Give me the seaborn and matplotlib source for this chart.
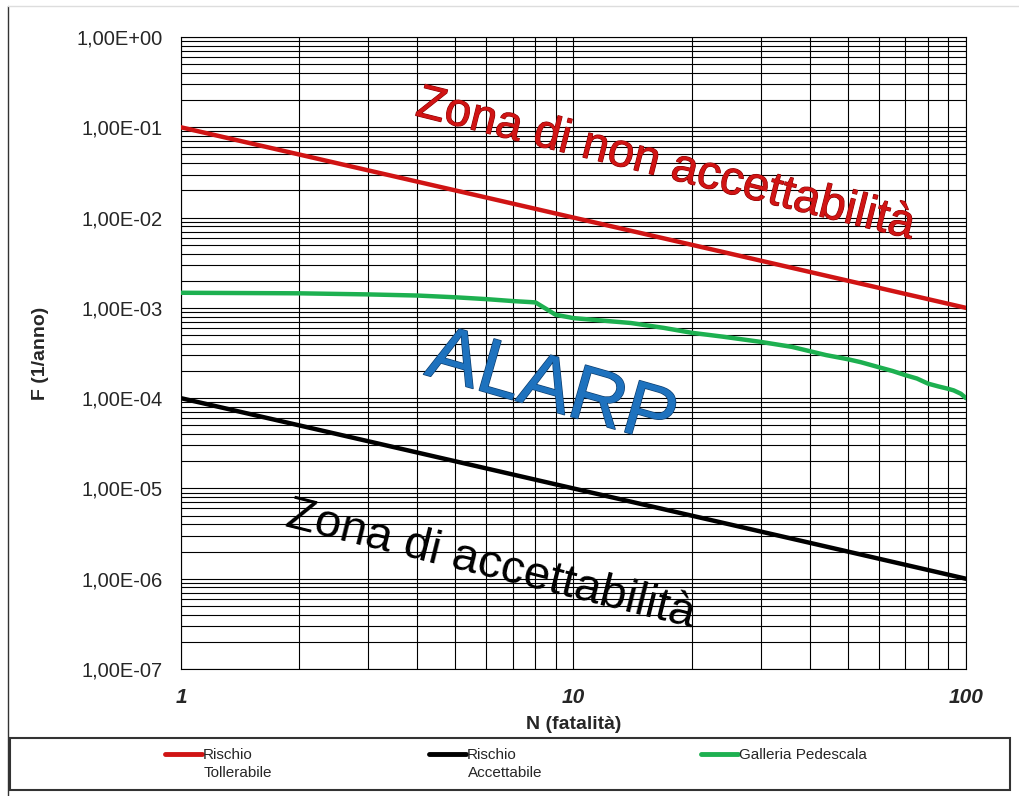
import numpy as np
import pandas as pd
import matplotlib
matplotlib.use('Agg')
import matplotlib.pyplot as plt
import matplotlib.ticker as ticker
import matplotlib.patheffects as pe
from matplotlib.patches import Rectangle
from matplotlib.lines import Line2D
import seaborn as sns

# colours as in the original F-N chart
COLOUR_RED   = '#D01414'
COLOUR_BLACK = '#000000'
COLOUR_GREEN = '#1DB050'
COLOUR_BLUE  = '#1E72BE'

# data
n_limits        = [1, 100]
rischio_toll    = [1e-1, 1e-3]
rischio_acc     = [1e-4, 1e-6]

n_galleria = [1, 2, 3, 4, 5, 6, 7, 8, 8.5, 9, 10, 12, 14, 17, 20, 24, 30, 36,
              44, 50, 54, 60, 65, 70, 75, 80, 85, 90, 93, 97, 100]
f_galleria = [1.47e-3, 1.45e-3, 1.41e-3, 1.37e-3, 1.31e-3, 1.25e-3, 1.19e-3,
              1.15e-3, 0.98e-3, 8.4e-4, 7.7e-4, 7.2e-4, 6.8e-4, 6.0e-4, 5.3e-4,
              4.8e-4, 4.2e-4, 3.7e-4, 3.0e-4, 2.7e-4, 2.5e-4, 2.2e-4, 2.0e-4,
              1.8e-4, 1.65e-4, 1.45e-4, 1.35e-4, 1.27e-4, 1.22e-4, 1.12e-4, 1.0e-4]

serie = ['Rischio Tollerabile', 'Rischio Accettabile', 'Galleria Pedescala']
legend_first = ['Rischio', 'Rischio', 'Galleria Pedescala']
legend_second = ['Tollerabile', 'Accettabile', '']

df = pd.concat([
    pd.DataFrame({'N': n_limits, 'F': rischio_toll, 'serie': serie[0]}),
    pd.DataFrame({'N': n_limits, 'F': rischio_acc, 'serie': serie[1]}),
    pd.DataFrame({'N': n_galleria, 'F': f_galleria, 'serie': serie[2]}),
])

sns.set_style('white')
plt.rcParams['font.family'] = ['Liberation Sans', 'DejaVu Sans']

fig = plt.figure(figsize=(10.19, 7.96), dpi=100)
ax = fig.add_axes([0.1776, 0.1595, 0.7704, 0.794])

sns.lineplot(
    data=df, x='N', y='F', hue='serie',
    palette=[COLOUR_RED, COLOUR_BLACK, COLOUR_GREEN],
    linewidth=3.2, legend=False, ax=ax, zorder=3
)

ax.set_xscale('log')
ax.set_yscale('log')
ax.set_xlim(1, 100)
ax.set_ylim(1e-7, 1)

ax.xaxis.set_major_locator(ticker.LogLocator(base=10))
ax.xaxis.set_minor_locator(ticker.LogLocator(base=10, subs=np.arange(2, 10)))
ax.yaxis.set_major_locator(ticker.LogLocator(base=10, numticks=10))
ax.yaxis.set_minor_locator(ticker.LogLocator(base=10, subs=np.arange(2, 10), numticks=10))
ax.xaxis.set_major_formatter(ticker.FuncFormatter(lambda v, p: f'{v:g}'))
ax.xaxis.set_minor_formatter(ticker.NullFormatter())
ax.yaxis.set_major_formatter(ticker.FuncFormatter(lambda v, p: f'{v:.2E}'.replace('.', ',')))
ax.yaxis.set_minor_formatter(ticker.NullFormatter())

ax.grid(which='both', color='black', linewidth=0.8)
ax.tick_params(which='both', direction='out', color='black', width=0.8)
ax.tick_params(which='major', length=6)
ax.tick_params(which='minor', length=5)
ax.tick_params(axis='y', labelsize=14.5, pad=7)
ax.tick_params(axis='x', labelsize=15, pad=8)
for lbl in ax.get_xticklabels():
    lbl.set_fontweight('bold')
    lbl.set_fontstyle('italic')
for s in ax.spines.values():
    s.set_color('black')
    s.set_linewidth(0.8)

ax.set_xlabel('N (fatalità)', fontsize=14, fontweight='bold', labelpad=6)
ax.set_ylabel('F (1/anno)', fontsize=14, fontweight='bold', labelpad=20)

# zone labels (WordArt style, thin dark outline)
ax.text(0.617, 0.797, 'Zona di non accettabilità', transform=ax.transAxes,
        fontsize=34, color=COLOUR_RED, rotation=-14, ha='center', va='center',
        rotation_mode='anchor', zorder=4,
        path_effects=[pe.withStroke(linewidth=0.8, foreground='#8a0000')])
ax.text(0.472, 0.442, 'ALARP', transform=ax.transAxes,
        fontsize=56, color=COLOUR_BLUE, rotation=-16, ha='center', va='center',
        rotation_mode='anchor', zorder=4,
        path_effects=[pe.withStroke(linewidth=1.0, foreground='#0d3f70')])
ax.text(0.394, 0.165, 'Zona di accettabilità', transform=ax.transAxes,
        fontsize=34, color=COLOUR_BLACK, rotation=-14, ha='center', va='center',
        rotation_mode='anchor', zorder=4)

# legend below, inside a box: one entry per column
legend_x = [165, 429, 701]
for colour, first, second, x0 in zip([COLOUR_RED, COLOUR_BLACK, COLOUR_GREEN],
                                     legend_first, legend_second, legend_x):
    h = Line2D([], [], color=colour, linewidth=3.5)
    leg = fig.legend([h], [first], loc='center left',
                     bbox_to_anchor=(x0 / 1019, 1 - 755 / 796),
                     frameon=False, handlelength=2.4, handletextpad=0.1,
                     borderaxespad=0, borderpad=0, fontsize=11)
    if second:
        fig.text((x0 + 39) / 1019, 1 - 773 / 796, second, fontsize=11,
                 ha='left', va='center')

fig.patches.append(Rectangle((10 / 1019, 6 / 796), 1000 / 1019, 52 / 796,
                             transform=fig.transFigure, fill=False,
                             edgecolor='#333333', linewidth=1.5))
fig.lines.append(Line2D([8 / 1019, 8 / 1019], [0, 790 / 796], transform=fig.transFigure,
                        color='#333333', linewidth=1))
fig.lines.append(Line2D([8 / 1019, 1], [790 / 796, 790 / 796], transform=fig.transFigure,
                        color='#dddddd', linewidth=1))

fig.savefig('out.png', dpi=100)
plt.close()
